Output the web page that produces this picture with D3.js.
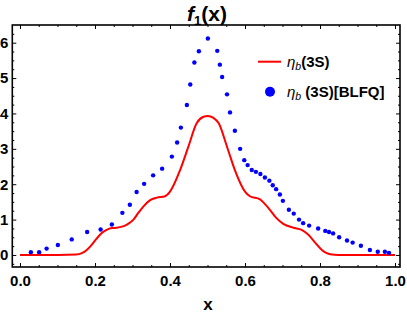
<!DOCTYPE html>
<html>
<head>
<meta charset="utf-8">
<script src="https://cdn.jsdelivr.net/npm/d3@7"></script>
<style>
  body { margin: 0; background: #fff; }
  svg text { font-family: "Liberation Sans", Arial, sans-serif; font-weight: bold; fill: #000; }
</style>
</head>
<body>
<div id="chart"></div>
<script>
// BLFQ points (blue dots)
const blfqX = [0.029, 0.051, 0.071, 0.101, 0.138, 0.179, 0.215, 0.245, 0.273, 0.293,
  0.311, 0.331, 0.355, 0.379, 0.405, 0.419, 0.429, 0.445, 0.454, 0.465, 0.477, 0.501,
  0.526, 0.533, 0.539, 0.552, 0.560, 0.573, 0.587, 0.598, 0.607, 0.618, 0.629, 0.641,
  0.653, 0.665, 0.674, 0.683, 0.693, 0.701, 0.717, 0.730, 0.744, 0.755, 0.771, 0.795,
  0.814, 0.824, 0.835, 0.851, 0.872, 0.887, 0.909, 0.933, 0.954, 0.973, 0.984];
const blfqY = [0.08, 0.08, 0.18, 0.28, 0.44, 0.65, 0.72, 0.86, 1.19, 1.42,
  1.78, 2.01, 2.25, 2.44, 2.78, 3.18, 3.60, 4.24, 4.82, 5.44, 5.76, 6.12,
  5.77, 5.38, 5.03, 4.54, 4.03, 3.51, 3.00, 2.68, 2.54, 2.40, 2.35, 2.29,
  2.19, 2.10, 1.97, 1.86, 1.71, 1.53, 1.28, 1.17, 1.00, 0.90, 0.83, 0.75,
  0.68, 0.65, 0.61, 0.50, 0.41, 0.35, 0.26, 0.14, 0.09, 0.09, 0.06];

// eta_b(3S) curve (red line)
const curveX = [0, 0.10, 0.15, 0.165, 0.178, 0.19, 0.205, 0.218, 0.231, 0.245, 0.258,
  0.272, 0.285, 0.302, 0.315, 0.33, 0.347, 0.365, 0.387, 0.40, 0.427, 0.449, 0.471,
  0.488, 0.501, 0.515, 0.53, 0.552, 0.573, 0.60, 0.613, 0.64, 0.652, 0.667, 0.684,
  0.702, 0.729, 0.751, 0.769, 0.787, 0.805, 0.818, 0.827, 0.85, 1.0];
const curveY = [0, 0, 0.01, 0.05, 0.14, 0.27, 0.47, 0.62, 0.71, 0.76, 0.77,
  0.80, 0.86, 0.99, 1.18, 1.38, 1.55, 1.62, 1.66, 1.79, 2.40, 3.06, 3.72,
  3.90, 3.93, 3.88, 3.72, 3.06, 2.40, 1.79, 1.66, 1.57, 1.45, 1.27, 1.04,
  0.88, 0.77, 0.71, 0.57, 0.35, 0.14, 0.05, 0.02, 0, 0];

const xMajor = [0, 0.2, 0.4, 0.6, 0.8, 1.0];
const xLabels = ["0.0", "0.2", "0.4", "0.6", "0.8", "1.0"];
const yMajor = [0, 1, 2, 3, 4, 5, 6];
const yLabels = ["0", "1", "2", "3", "4", "5", "6"];

const width = 407, height = 315;
const fLeft = 12.3, fRight = 400, fTop = 25, fBottom = 267;

const x = d3.scaleLinear().domain([-0.0205, 1.0133]).range([fLeft, fRight]);
const y = d3.scaleLinear().domain([-0.34, 6.5]).range([fBottom, fTop]);

const xMinor = d3.range(0, 1.0001, 0.05).filter(v => Math.abs(v * 5 - Math.round(v * 5)) > 1e-6);
const yMinor = d3.range(-0.25, 6.5, 0.25).filter(v => Math.abs(v - Math.round(v)) > 1e-6);

const svg = d3.select("#chart").append("svg")
  .attr("width", width)
  .attr("height", height);

function addAxis(axis, tx, ty) {
  const g = svg.append("g").attr("transform", `translate(${tx},${ty})`).call(axis);
  g.select(".domain").remove();
  g.selectAll("line").attr("stroke", "#000").attr("stroke-width", 1);
  g.selectAll("text").attr("font-size", 15).attr("font-family", null).attr("fill", "#000");
  return g;
}

// labelled axes
addAxis(d3.axisBottom(x).tickValues(xMajor).tickSize(-4).tickPadding(8)
  .tickFormat((d, i) => xLabels[i]), 0, fBottom);
addAxis(d3.axisLeft(y).tickValues(yMajor).tickSize(-4).tickPadding(4)
  .tickFormat((d, i) => yLabels[i]), fLeft, 0);
// mirrored ticks
addAxis(d3.axisTop(x).tickValues(xMajor).tickSize(-4).tickFormat(""), 0, fTop);
addAxis(d3.axisRight(y).tickValues(yMajor).tickSize(-4).tickFormat(""), fRight, 0);
// minor ticks
addAxis(d3.axisBottom(x).tickValues(xMinor).tickSize(-2).tickFormat(""), 0, fBottom);
addAxis(d3.axisTop(x).tickValues(xMinor).tickSize(-2).tickFormat(""), 0, fTop);
addAxis(d3.axisLeft(y).tickValues(yMinor).tickSize(-2).tickFormat(""), fLeft, 0);
addAxis(d3.axisRight(y).tickValues(yMinor).tickSize(-2).tickFormat(""), fRight, 0);

// frame
svg.append("rect")
  .attr("x", fLeft).attr("y", fTop)
  .attr("width", fRight - fLeft).attr("height", fBottom - fTop)
  .attr("fill", "none").attr("stroke", "#000").attr("stroke-width", 1.6);

// red curve
const line = d3.line()
  .x(i => x(curveX[i]))
  .y(i => y(curveY[i]))
  .curve(d3.curveMonotoneX);
svg.append("path")
  .attr("d", line(d3.range(curveX.length)))
  .attr("fill", "none")
  .attr("stroke", "#ff0000")
  .attr("stroke-width", 2);

// blue points
svg.append("g").selectAll("circle")
  .data(d3.range(blfqX.length))
  .enter().append("circle")
  .attr("cx", i => x(blfqX[i]))
  .attr("cy", i => y(blfqY[i]))
  .attr("r", 2.2)
  .attr("fill", "#0000ff");

// title
const title = svg.append("text")
  .attr("x", 207).attr("y", 21)
  .attr("text-anchor", "middle")
  .attr("font-size", 21);
title.append("tspan").attr("font-style", "italic").text("f");
title.append("tspan").attr("font-size", 13).attr("dy", 4).text("1");
title.append("tspan").attr("dy", -4).text("(x)");

// x label
svg.append("text")
  .attr("x", 208).attr("y", 310)
  .attr("text-anchor", "middle")
  .attr("font-size", 17)
  .text("x");

// legend
svg.append("line")
  .attr("x1", 258).attr("x2", 281)
  .attr("y1", 61.7).attr("y2", 61.7)
  .attr("stroke", "#ff0000").attr("stroke-width", 2);
const leg1 = svg.append("text").attr("x", 287).attr("y", 67).attr("font-size", 15);
leg1.append("tspan").attr("font-style", "italic").attr("font-weight", "normal").text("η");
leg1.append("tspan").attr("font-style", "italic").attr("font-weight", "normal")
  .attr("font-size", 10.5).attr("dy", 3).text("b");
leg1.append("tspan").attr("dy", -3).text("(3S)");

svg.append("circle")
  .attr("cx", 270).attr("cy", 91.7).attr("r", 5)
  .attr("fill", "#0000ff");
const leg2 = svg.append("text").attr("x", 287).attr("y", 97).attr("font-size", 15);
leg2.append("tspan").attr("font-style", "italic").attr("font-weight", "normal").text("η");
leg2.append("tspan").attr("font-style", "italic").attr("font-weight", "normal")
  .attr("font-size", 10.5).attr("dy", 3).text("b");
leg2.append("tspan").attr("dy", -3).text(" (3S)[BLFQ]");
</script>
</body>
</html>
